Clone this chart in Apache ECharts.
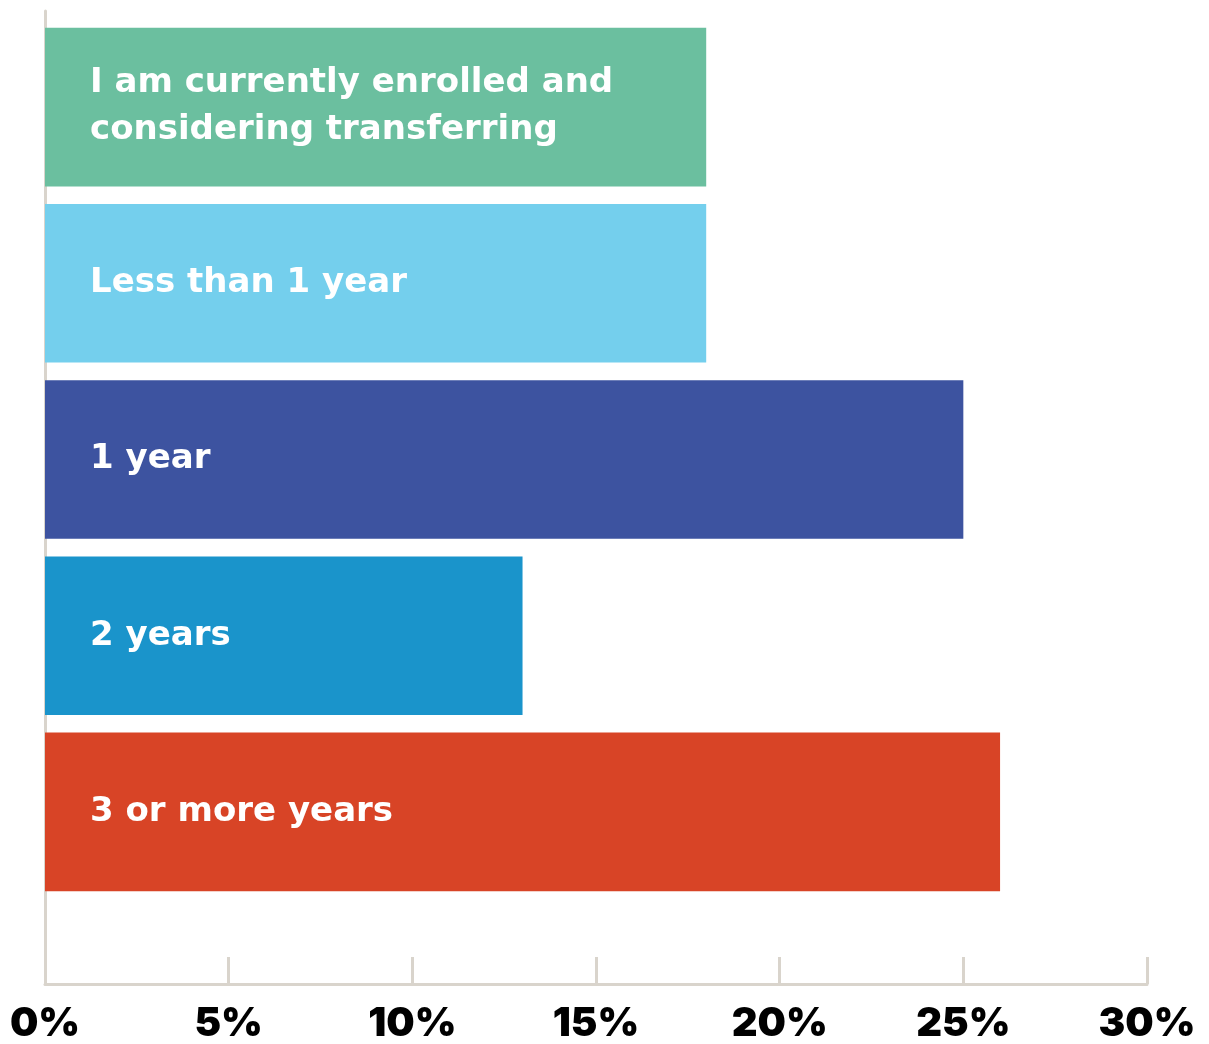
<!DOCTYPE html>
<html>
<head>
<meta charset="utf-8">
<script src="https://cdn.jsdelivr.net/npm/echarts@6/dist/echarts.min.js"></script>
<style>
  html, body { margin: 0; padding: 0; background: #ffffff; }
  #chart { width: 1209px; height: 1044px; }
</style>
</head>
<body>
<div id="chart"></div>
<script>
// Survey answers, top to bottom
const categories = [
  'I am currently enrolled and\nconsidering transferring',
  'Less than 1 year',
  '1 year',
  '2 years',
  '3 or more years'
];
// Share of respondents, percent
const values = [18, 18, 25, 13, 26];
// Axis ticks, percent
const tickValues = [0, 5, 10, 15, 20, 25, 30];

const barColors = ['#6bbf9f', '#74cfed', '#3d53a0', '#1a94cb', '#d84426'];
const axisColor = '#d9d4cc';
const tickFont = 'Inter, "Noto Sans", sans-serif';
const labelFont = '"DejaVu Sans", Inter, sans-serif';

const chart = echarts.init(document.getElementById('chart'), null, { renderer: 'canvas' });

chart.setOption({
  animation: false,
  backgroundColor: '#ffffff',
  grid: [
    // frame with the percent axis and the tall left rule
    { left: 45, right: 62, top: 11, bottom: 59 },
    // bar area
    { left: 45, right: 62, top: 19, bottom: 144 }
  ],
  xAxis: [
    {
      gridIndex: 0,
      type: 'value',
      min: tickValues[0],
      max: tickValues[tickValues.length - 1],
      interval: 5,
      axisLine: { show: true, lineStyle: { color: axisColor, width: 3 } },
      axisTick: { show: true, inside: true, length: 27, lineStyle: { color: axisColor, width: 3 } },
      splitLine: { show: false },
      axisLabel: {
        margin: 20,
        color: '#000000',
        fontFamily: tickFont,
        fontWeight: 900,
        fontSize: 40,
        formatter: v => v + '%'
      }
    },
    {
      gridIndex: 1,
      type: 'value',
      min: tickValues[0],
      max: tickValues[tickValues.length - 1],
      show: false
    }
  ],
  yAxis: [
    {
      gridIndex: 0,
      type: 'value',
      min: 0,
      max: 1,
      axisLine: { show: true, lineStyle: { color: axisColor, width: 3 } },
      axisTick: { show: false },
      axisLabel: { show: false },
      splitLine: { show: false }
    },
    {
      gridIndex: 1,
      type: 'category',
      data: categories,
      inverse: true,
      show: false
    }
  ],
  series: [{
    type: 'bar',
    xAxisIndex: 1,
    yAxisIndex: 1,
    barCategoryGap: '10%',
    data: values.map((v, i) => ({ value: v, itemStyle: { color: barColors[i] } })),
    label: {
      show: true,
      position: 'insideLeft',
      distance: 45,
      formatter: p => p.name,
      color: '#ffffff',
      fontFamily: labelFont,
      fontWeight: 'bold',
      fontSize: 34,
      lineHeight: 47
    }
  }]
});
</script>
</body>
</html>
